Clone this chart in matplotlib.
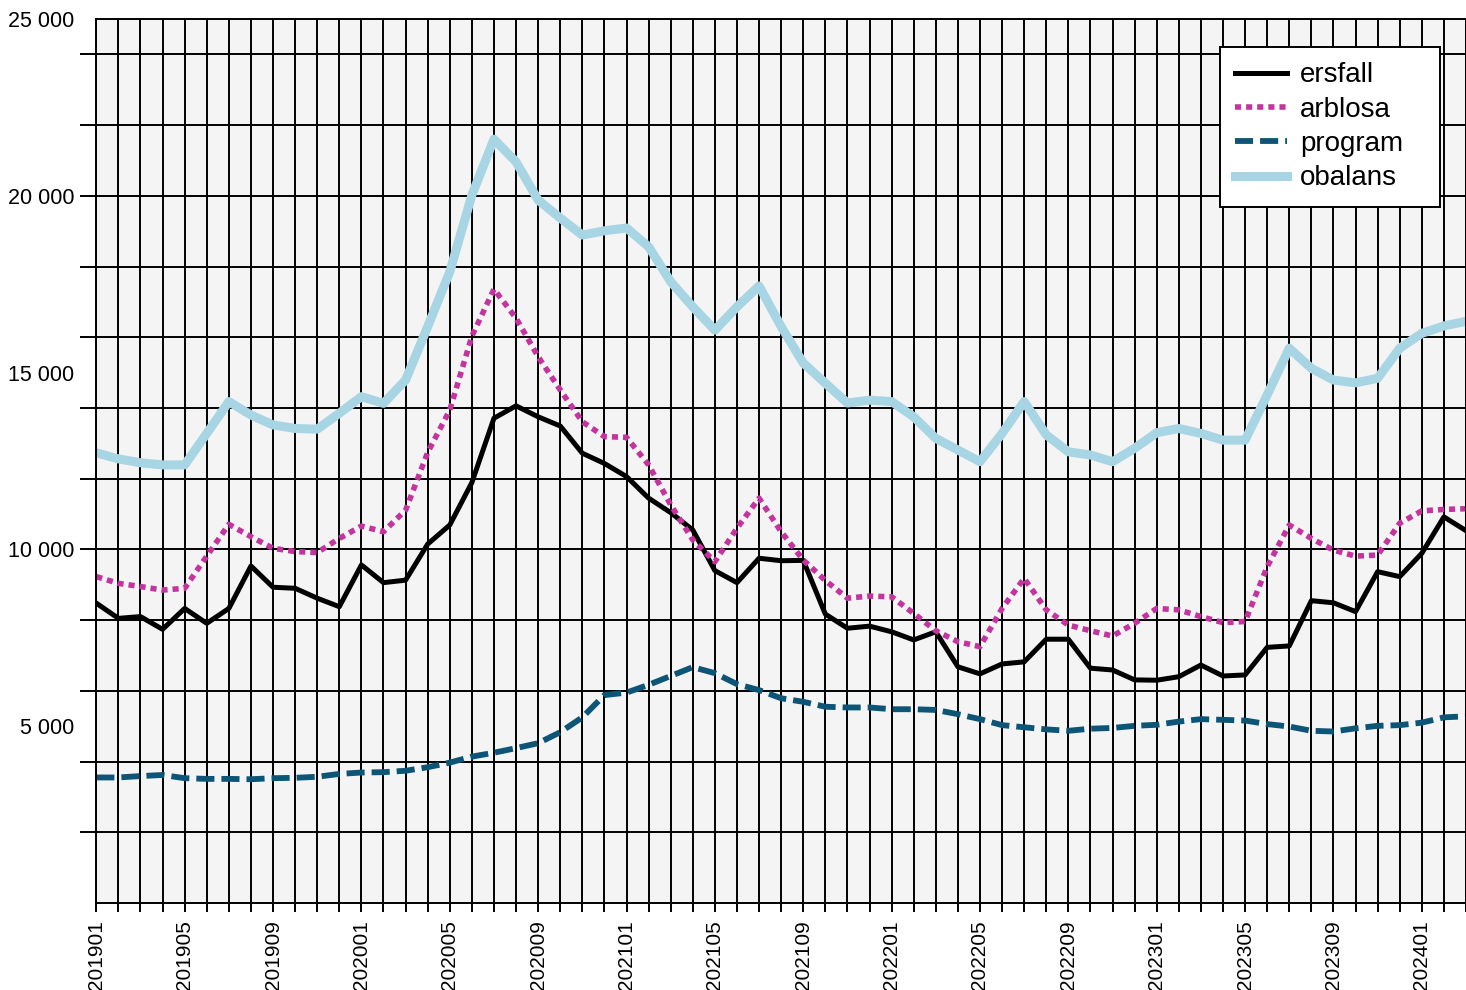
import numpy as np
import matplotlib.pyplot as plt
from matplotlib.ticker import FixedLocator, NullFormatter

plt.rcParams['font.family'] = ['Liberation Sans', 'DejaVu Sans']

# months 201901 .. 202403
months = [f"{y}{m:02d}" for y in range(2019, 2025) for m in range(1, 13)][:63]

ersfall = [8480, 8050, 8100, 7740, 8330, 7910, 8330, 9530, 8930, 8900, 8620, 8380,
           9560, 9060, 9130, 10150, 10690, 11890, 13710, 14060, 13750, 13490, 12720, 12430,
           12060, 11450, 11040, 10550, 9400, 9060, 9750, 9680, 9690, 8170, 7770, 7830,
           7670, 7440, 7670, 6680, 6480, 6760, 6820, 7460, 7460, 6640, 6590, 6310,
           6300, 6400, 6730, 6420, 6450, 7230, 7270, 8550, 8490, 8240, 9370, 9230,
           9890, 10920, 10530]

arblosa = [9230, 9040, 8950, 8850, 8900, 9810, 10710, 10360, 10030, 9940, 9910, 10310,
           10660, 10500, 11110, 12740, 13940, 16030, 17360, 16540, 15450, 14510, 13610, 13190,
           13170, 12390, 11260, 10270, 9650, 10600, 11450, 10500, 9700, 9120, 8620, 8680,
           8660, 8190, 7700, 7390, 7250, 8330, 9180, 8290, 7860, 7700, 7550, 7910,
           8330, 8290, 8100, 7930, 7960, 9510, 10690, 10310, 9980, 9810, 9840, 10740,
           11090, 11130, 11150]

program = [3550, 3550, 3590, 3620, 3530, 3510, 3510, 3500, 3530, 3540, 3570, 3650,
           3690, 3700, 3740, 3840, 3970, 4140, 4250, 4380, 4520, 4830, 5250, 5880,
           5950, 6170, 6420, 6670, 6500, 6190, 6020, 5790, 5690, 5550, 5530, 5530,
           5480, 5480, 5460, 5340, 5200, 5030, 4970, 4910, 4870, 4930, 4950, 5010,
           5040, 5130, 5200, 5180, 5160, 5060, 4990, 4870, 4850, 4940, 5010, 5030,
           5100, 5250, 5280]

obalans = [12730, 12560, 12450, 12390, 12390, 13280, 14180, 13800, 13520, 13420, 13400, 13850,
           14320, 14130, 14790, 16300, 17850, 20020, 21600, 20960, 19880, 19370, 18890, 19010,
           19090, 18560, 17570, 16860, 16200, 16860, 17450, 16300, 15270, 14700, 14140, 14220,
           14180, 13750, 13140, 12810, 12480, 13280, 14180, 13240, 12760, 12670, 12480, 12860,
           13300, 13420, 13280, 13090, 13090, 14370, 15690, 15120, 14790, 14710, 14840, 15690,
           16110, 16320, 16450]

y_labels = ['5 000', '10 000', '15 000', '20 000', '25 000']

x = np.arange(len(months))

fig = plt.figure(figsize=(14.66, 9.9), dpi=100)
ax = fig.add_axes([96.3 / 1466, 87 / 990, 1 - 96.3 / 1466, 884 / 990])
ax.set_facecolor('#f4f4f4')

ax.plot(x, ersfall, color='black', lw=3.6, label='ersfall')
ax.plot(x, arblosa, color='#c4339e', lw=4.0, linestyle=(0, (1.1, 0.9)), label='arblosa')
ax.plot(x, program, color='#0c5577', lw=4.2, linestyle=(0, (3.1, 1.2)), label='program')
ax.plot(x, obalans, color='#a8d5e3', lw=6.5, label='obalans')

ax.set_xlim(0, 61.34)
ax.set_ylim(0, 25000)

ax.set_xticks(x)
ax.set_xticklabels([m if i % 4 == 0 else '' for i, m in enumerate(months)])
ax.tick_params(axis='x', length=6.5, width=1.4, pad=6, labelsize=15, labelrotation=90)

ax.yaxis.set_major_locator(FixedLocator(range(2000, 25000, 2000)))
ax.yaxis.set_major_formatter(NullFormatter())
ax.yaxis.set_minor_locator(FixedLocator(range(5000, 25001, 5000)))
ax.yaxis.remove_overlapping_locs = False
ax.set_yticklabels(y_labels, minor=True)
ax.tick_params(axis='y', which='major', length=11.5, width=1.4)
ax.tick_params(axis='y', which='minor', length=0, pad=16, labelsize=15.5)

ax.grid(True, which='major', color='black', lw=1.4)
ax.set_axisbelow(True)
for s in ax.spines.values():
    s.set_linewidth(1.4)

leg = ax.legend(loc='upper left', mode='expand',
                bbox_to_anchor=(1220 / 1466, 1 - 204 / 990, 220 / 1466, 157 / 990),
                bbox_transform=fig.transFigure, borderaxespad=0, fontsize=20,
                handlelength=1.87, fancybox=False, edgecolor='black', framealpha=1,
                borderpad=0.55, labelspacing=0.3, handletextpad=0.45)
leg.get_frame().set_linewidth(1.4)

plt.savefig('out.png', dpi=100)
